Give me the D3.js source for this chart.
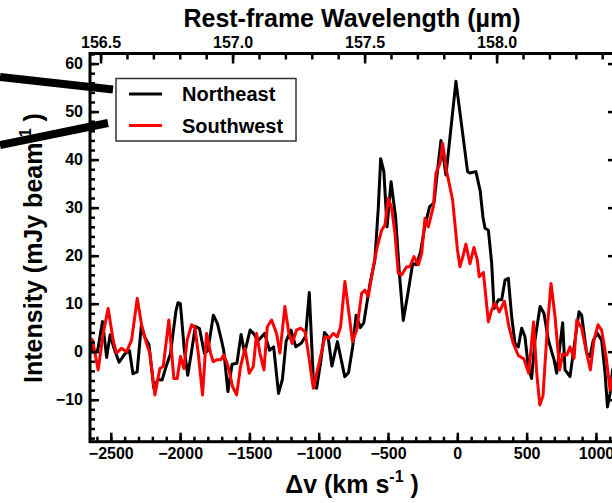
<!DOCTYPE html>
<html>
<head>
<meta charset="utf-8">
<script src="https://cdn.jsdelivr.net/npm/d3@7"></script>
<style>
  body { margin: 0; background: #fff; }
  svg { display: block; font-family: "Liberation Sans", Arial, sans-serif; font-weight: bold; }
</style>
</head>
<body>
<script>
// velocity channels (km/s) and intensity (mJy/beam)
const neVel = [-2650, -2630, -2595, -2560, -2530, -2505, -2480, -2440, -2400, -2365, -2340, -2310, -2280, -2255, -2225, -2190, -2160, -2130, -2100, -2070, -2030, -2015, -1998, -1970, -1945, -1920, -1890, -1860, -1825, -1800, -1760, -1730, -1700, -1685, -1655, -1625, -1590, -1560, -1535, -1495, -1465, -1440, -1415, -1390, -1355, -1325, -1290, -1262, -1235, -1200, -1165, -1125, -1095, -1068, -1036, -1015, -985, -958, -932, -905, -865, -812, -785, -755, -730, -700, -675, -630, -595, -570, -553, -530, -507, -478, -445, -418, -390, -356, -322, -295, -265, -235, -200, -168, -140, -118, -82, -10, 74, 90, 134, 165, 185, 200, 224, 248, 265, 296, 320, 344, 368, 392, 416, 440, 464, 488, 512, 536, 560, 597, 625, 657, 698, 717, 741, 760, 777, 813, 849, 878, 897, 933, 957, 981, 1010, 1041, 1066, 1083, 1102, 1120, 1150];
const neInt = [2.2, 0.2, 0.2, 6.3, -1.2, 3.5, 1.0, -2.2, -0.5, 0.2, -4.6, -4.2, 5.4, 3.0, 1.5, -7.6, -5.8, -5.9, -3.0, -0.5, 8.5, 10.2, 10.0, 0.5, -4.9, -0.5, 5.3, 4.8, -0.3, 0.2, 7.6, 5.8, 2.2, 0.2, -8.3, -2.6, -2.4, 3.6, -0.3, 4.5, 3.6, 2.2, 3.0, 3.8, 0.3, 1.0, -8.7, -5.8, 2.2, 4.5, 1.0, 1.8, 3.2, 12.3, -7.4, -7.6, -2.0, 4.0, 3.0, -3.0, 2.1, -5.2, -4.4, 1.0, 7.6, 5.0, 6.0, 14.2, 19.0, 30.0, 40.2, 37.5, 26.0, 35.4, 28.0, 16.3, 6.5, 12.2, 18.4, 18.1, 20.8, 26.0, 30.2, 31.0, 38.5, 44.0, 36.8, 56.3, 37.5, 37.2, 37.5, 33.5, 28.0, 25.7, 25.3, 18.4, 9.0, 10.8, 10.8, 14.9, 15.3, 7.3, 1.7, 1.0, 4.9, 3.1, -3.1, -5.6, 2.4, 9.4, 8.0, 2.4, -1.7, -4.5, 1.4, 6.0, -3.8, -5.2, 2.4, 8.3, 7.6, -0.3, -1.0, 2.4, 3.8, 2.4, -4.5, -11.5, -8.7, -3.8, -2.0];

const swVel = [-2650, -2632, -2591, -2555, -2519, -2483, -2459, -2423, -2386, -2350, -2309, -2278, -2242, -2218, -2182, -2146, -2122, -2081, -2045, -2021, -1997, -1973, -1949, -1917, -1894, -1869, -1838, -1809, -1780, -1761, -1737, -1708, -1684, -1653, -1621, -1592, -1564, -1532, -1501, -1472, -1448, -1424, -1395, -1371, -1340, -1304, -1280, -1244, -1215, -1191, -1160, -1131, -1099, -1075, -1039, -1003, -955, -924, -895, -866, -842, -811, -756, -726, -690, -666, -642, -606, -577, -546, -522, -498, -474, -450, -426, -402, -366, -342, -313, -281, -257, -233, -209, -173, -154, -125, -106, -80, -34, 1, 19, 43, 62, 91, 120, 144, 158, 188, 224, 248, 272, 303, 340, 370, 404, 440, 480, 515, 550, 573, 595, 618, 650, 676, 705, 738, 760, 790, 813, 842, 862, 897, 929, 960, 986, 1015, 1041, 1073, 1102, 1116, 1150];
const swInt = [2.8, 2.4, -3.8, 3.8, 9.0, 2.4, -0.3, 0.7, 0.0, 2.4, 11.1, 5.6, 1.7, -0.3, -9.0, -3.5, -3.1, 6.6, -5.6, -5.6, -1.0, -3.5, 2.4, 5.6, 5.2, -0.3, -9.0, 3.8, -0.3, -2.1, -1.7, -1.7, -0.7, -3.1, -7.3, -9.0, -3.1, 0.7, -4.5, -3.1, 3.8, -0.3, -3.8, 5.2, 6.6, 3.8, -0.3, 9.4, 3.8, 1.7, 4.5, 4.9, 4.2, -0.3, -7.6, -3.1, 3.1, 2.8, 3.8, 3.1, 5.2, 14.6, 2.1, 4.5, 12.2, 12.8, 11.5, 17.7, 21.9, 25.3, 26.4, 31.9, 29.9, 24.7, 16.3, 16.0, 17.7, 17.7, 19.8, 18.1, 20.5, 27.8, 26.0, 30.2, 37.2, 39.2, 43.4, 38.0, 31.6, 21.2, 17.7, 20.1, 22.4, 18.3, 21.7, 19.1, 15.6, 16.5, 6.2, 8.7, 10.1, 8.3, 10.5, 5.5, 1.7, -0.8, -1.5, -4.5, 6.2, -4.5, -11.1, -9.2, 5.2, 14.2, 7.3, -3.8, -0.5, -0.7, 1.0, -1.4, 6.6, 4.9, 0.3, -3.8, 2.4, 5.6, 4.5, -1.0, -8.0, -5.9, -3.0];

const seriesNames = ["Northeast", "Southwest"];
const seriesColors = ["#000000", "#ff0000"];

const velDomain = [-2650, 1152];
const wavDomain = [156.46, 158.456];
const intDomain = [-18.75, 62.1];
const velTicks = [-2500, -2000, -1500, -1000, -500, 0, 500, 1000];
const wavTicks = [156.5, 157.0, 157.5, 158.0];
const intTicks = [-10, 0, 10, 20, 30, 40, 50, 60];

const width = 612, height = 503;
const margin = ({ top: 53.5, right: -5, bottom: 61.3, left: 90 });

const x = d3.scaleLinear()
  .domain(velDomain)
  .range([margin.left, width - margin.right]);

const xTop = d3.scaleLinear()
  .domain(wavDomain)
  .range([margin.left, width - margin.right]);

const y = d3.scaleLinear()
  .domain(intDomain)
  .range([height - margin.bottom, margin.top]);

const svg = d3.select("body")
  .append("svg")
  .attr("width", width)
  .attr("height", height)
  .attr("viewBox", [0, 0, width, height]);

svg.append("clipPath").attr("id", "plot")
  .append("rect")
  .attr("x", margin.left).attr("y", margin.top)
  .attr("width", x.range()[1] - margin.left)
  .attr("height", y.range()[0] - margin.top);

const series = [
  { name: seriesNames[0], color: seriesColors[0], pts: neVel.map((v, i) => [v, neInt[i]]) },
  { name: seriesNames[1], color: seriesColors[1], pts: swVel.map((v, i) => [v, swInt[i]]) }
];

const line = d3.line().x(d => x(d[0])).y(d => y(d[1]));

svg.append("g")
  .attr("clip-path", "url(#plot)")
  .selectAll("path")
  .data(series)
  .join("path")
  .attr("fill", "none")
  .attr("stroke", d => d.color)
  .attr("stroke-width", 3)
  .attr("stroke-linejoin", "round")
  .attr("d", d => line(d.pts));

const styleAxis = g => {
  g.select(".domain").remove();
  g.selectAll(".tick line").attr("stroke", "#000").attr("stroke-width", 2.5);
  g.selectAll(".tick text")
    .attr("fill", "#000")
    .style("font-size", "16px")
    .style("font-weight", "bold")
    .style("font-family", "'Liberation Sans', Arial, sans-serif");
};

const bottom = height - margin.bottom, right = width - margin.right;
const minorV = d3.range(-2600, 1200, 100);
const minorW = d3.range(156.5, 158.45, 0.1);
const minorI = d3.range(-18, 63, 2);

// minor ticks
svg.append("g").attr("transform", `translate(0,${bottom})`)
  .call(d3.axisBottom(x).tickValues(minorV).tickSize(-5).tickFormat(""))
  .call(styleAxis);
svg.append("g").attr("transform", `translate(0,${margin.top})`)
  .call(d3.axisTop(xTop).tickValues(minorW).tickSize(-6).tickFormat(""))
  .call(styleAxis);
svg.append("g").attr("transform", `translate(${margin.left},0)`)
  .call(d3.axisLeft(y).tickValues(minorI).tickSize(-5).tickFormat(""))
  .call(styleAxis);
svg.append("g").attr("transform", `translate(${right},0)`)
  .call(d3.axisRight(y).tickValues(minorI).tickSize(-5).tickFormat(""))
  .call(styleAxis);

// major ticks
svg.append("g").attr("transform", `translate(0,${bottom})`)
  .call(d3.axisBottom(x).tickValues(velTicks).tickSize(-9).tickPadding(6).tickFormat(d3.format("d")))
  .call(styleAxis);
svg.append("g").attr("transform", `translate(0,${margin.top})`)
  .call(d3.axisTop(xTop).tickValues(wavTicks).tickSize(-10).tickPadding(6).tickFormat(d3.format(".1f")))
  .call(styleAxis);
svg.append("g").attr("transform", `translate(${margin.left},0)`)
  .call(d3.axisLeft(y).tickValues(intTicks).tickSize(-9).tickPadding(7).tickFormat(d3.format("d")))
  .call(styleAxis);
svg.append("g").attr("transform", `translate(${right},0)`)
  .call(d3.axisRight(y).tickValues(intTicks).tickSize(-9).tickFormat(""))
  .call(styleAxis);

// frame
svg.append("rect")
  .attr("x", margin.left).attr("y", margin.top)
  .attr("width", right - margin.left).attr("height", bottom - margin.top)
  .attr("fill", "none").attr("stroke", "#000").attr("stroke-width", 3);

// titles
svg.append("text")
  .attr("x", 352).attr("y", 27)
  .attr("text-anchor", "middle")
  .style("font-size", "25px")
  .text("Rest-frame Wavelength (µm)");

const xt = svg.append("text")
  .attr("x", 352).attr("y", 493)
  .attr("text-anchor", "middle")
  .style("font-size", "25px");
xt.append("tspan").text("Δv (km s");
xt.append("tspan").attr("dy", -11).style("font-size", "16px").text("-1");
xt.append("tspan").attr("dy", 11).text(" )");

const yt = svg.append("text")
  .attr("transform", "translate(42,248) rotate(-90)")
  .attr("text-anchor", "middle")
  .style("font-size", "25px");
yt.append("tspan").text("Intensity (mJy beam");
yt.append("tspan").attr("dy", -11).style("font-size", "16px").text("-1");
yt.append("tspan").attr("dy", 11).text(" )");

// callout lines from the adjoining panel
svg.append("g")
  .attr("stroke", "#000").attr("stroke-width", 8)
  .selectAll("line")
  .data([[0, 77, 113, 89.5], [0, 145, 108, 123]])
  .join("line")
  .attr("x1", d => d[0]).attr("y1", d => d[1])
  .attr("x2", d => d[2]).attr("y2", d => d[3]);

// legend
const legend = svg.append("g").attr("transform", "translate(116,78.5)");
legend.append("rect")
  .attr("width", 180).attr("height", 62.5)
  .attr("fill", "#fff").attr("stroke", "#333").attr("stroke-width", 1.5);
const item = legend.selectAll("g.item")
  .data(series)
  .join("g")
  .attr("class", "item")
  .attr("transform", (d, i) => `translate(0,${15.5 + i * 31.5})`);
item.append("line")
  .attr("x1", 13).attr("x2", 46)
  .attr("stroke", d => d.color).attr("stroke-width", 3);
item.append("text")
  .attr("x", 66).attr("y", 7)
  .style("font-size", "20px")
  .text(d => d.name);
</script>
</body>
</html>
